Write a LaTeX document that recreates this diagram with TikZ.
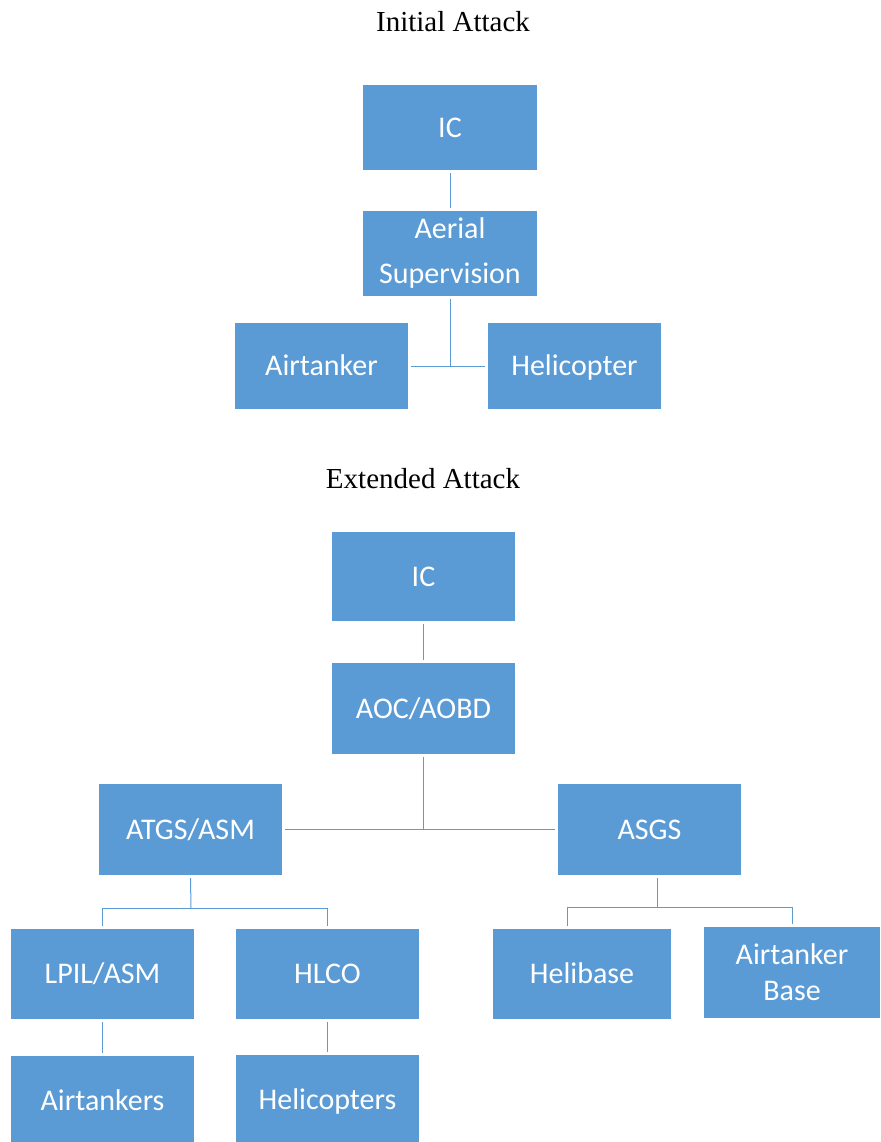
\documentclass[tikz,border=0pt]{standalone}
\usepackage{fontspec}
\setmainfont{Liberation Serif}
\newfontfamily\boxfont{Carlito}
\usetikzlibrary{positioning}
\definecolor{officeblue}{HTML}{5B9BD5}

\begin{document}
\begin{tikzpicture}[x=1pt, y=-1pt,
    box/.style={rectangle, fill=officeblue, text=white, align=center, inner sep=0pt,
        outer sep=3pt, minimum width=183pt, minimum height=90pt,
        text height=19pt, text depth=0pt,
        font=\boxfont\fontsize{30}{36}\selectfont},
    twoline/.style={text height=, text depth=},
    title/.style={font=\fontsize{29}{34}\selectfont, anchor=base},
    link/.style={draw=officeblue, line width=1pt}]
    \useasboundingbox (0,0) rectangle (880,1142);

    % Initial attack
    \node[title] (titleia) at (453,32) {Initial Attack};
    \node[box, minimum width=174pt, minimum height=85pt] (icia) at (450,128) {IC};
    \node[box, twoline, minimum width=174pt, minimum height=85pt,
        font=\boxfont\fontsize{30}{45}\selectfont] (aerial) at (450,253.5) {Aerial\\Supervision};
    \node[box, minimum width=173pt, minimum height=86pt] (airtanker) at (321.5,366) {Airtanker};
    \node[box, minimum width=173pt, minimum height=86pt] (helicopter) at (574.5,366) {Helicopter};

    \draw[link] (icia) -- (aerial);
    \draw[link] (airtanker) -- (helicopter);
    \draw[link] (aerial.south) -- (aerial.south |- airtanker.east);

    % Extended attack
    \node[title] (titleea) at (423,488) {Extended Attack};
    \node[box, minimum height=89pt] (icea) at (423.5,576.5) {IC};
    \node[box, minimum height=91pt] (aoc) at (423.5,708.5) {AOC/AOBD};
    \node[box, minimum height=91pt] (atgs) at (190.5,829.5) {ATGS/ASM};
    \node[box, minimum height=91pt] (asgs) at (649.5,829.5) {ASGS};
    \node[box] (lpil) at (102.5,974) {LPIL/ASM};
    \node[box] (hlco) at (327.5,974) {HLCO};
    \node[box, minimum width=178pt] (helibase) at (582,974) {Helibase};
    \node[box, twoline, minimum width=176pt, minimum height=91pt] (atbase) at (792,972.5) {Airtanker\\Base};
    \node[box] (airtankers) at (102.5,1101) {Airtankers};
    \node[box] (helicopters) at (327.5,1100) {Helicopters};

    \coordinate (atgsbar) at (191,908);
    \coordinate (asgsbar) at (657,907);

    \draw[link] (icea) -- (aoc);
    \draw[link] (atgs) -- (asgs);
    \draw[link] (aoc.south) -- (aoc.south |- atgs.east);
    \draw[link] (atgs.south) -- (atgsbar);
    \draw[link] (lpil.north) |- (atgsbar) -| (hlco.north);
    \draw[link] (asgsbar |- asgs.south) -- (asgsbar);
    \draw[link] ([xshift=-15pt]helibase.north) |- (asgsbar) -| (atbase.north);
    \draw[link] (lpil) -- (airtankers);
    \draw[link] (hlco) -- (helicopters);
\end{tikzpicture}
\end{document}
